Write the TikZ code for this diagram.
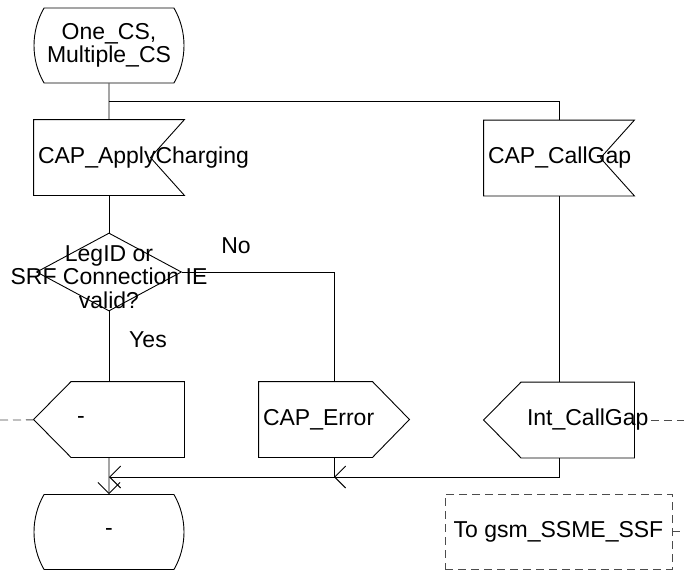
\documentclass[tikz,border=0pt]{standalone}
\usepackage{fontspec}
\setmainfont{Liberation Sans}
\usetikzlibrary{shapes.geometric,shapes.misc,arrows.meta}

% outlines of the SDL symbols, drawn round a plain box node
\newcommand{\sdlinput}[1]{\draw (#1.north west) -- (#1.north east) -- ([xshift=-34pt]#1.east) -- (#1.south east) -- (#1.south west) -- cycle;}
\newcommand{\sdloutleft}[1]{\draw ([xshift=37.5pt]#1.north west) -- (#1.north east) -- (#1.south east) -- ([xshift=37.5pt]#1.south west) -- (#1.west) -- cycle;}
\newcommand{\sdloutright}[1]{\draw (#1.north west) -- ([xshift=-37pt]#1.north east) -- (#1.east) -- ([xshift=-37pt]#1.south east) -- (#1.south west) -- cycle;}

\begin{document}
\begin{tikzpicture}[x=1pt, y=-1pt, line width=0.9pt, font=\fontsize{23}{23.5}\selectfont]
        \tikzstyle{sdl} = [rectangle, inner sep=0pt, minimum width=150pt, minimum height=75pt]
        \tikzstyle{terminal} = [sdl, draw, rounded rectangle, rounded rectangle arc length=60]
        \tikzstyle{decision} = [draw, diamond, inner sep=0pt, minimum width=145pt, minimum height=78pt]
        \tikzstyle{line} = [draw, -{Straight Barb[length=11pt, width=22pt]}]
        \tikzstyle{env} = [draw=black!70, dash pattern=on 8pt off 5pt, line width=0.8pt]
        \tikzstyle{txt} = [anchor=west, inner sep=2pt]

        \useasboundingbox (0,0) rectangle (684,571);

        \node [terminal, align=center] (start) at (109,45.5) {One\_CS,\\Multiple\_CS};
        \node [sdl, label={[txt, xshift=2pt]west:CAP\_ApplyCharging}] (apply) at (109,157.5) {};
        \node [sdl, label={[txt, xshift=2pt]west:CAP\_CallGap}] (callgap) at (559,158) {};
        \node [decision, label={[align=center, yshift=-5pt]center:LegID or\\SRF Connection IE\\valid?}] (q) at (109,272) {};
        \node [sdl, label={[txt, xshift=41pt]west:-}] (outdash) at (109,419.5) {};
        \node [sdl, label={[txt, xshift=2pt]west:CAP\_Error}] (err) at (334,419.5) {};
        \node [sdl, label={[txt, name=intgaptext, xshift=41pt]west:Int\_CallGap}] (intgap) at (559,420) {};
        \node [terminal] (stop) at (109,532) {-};
        \node [env, minimum width=227pt, minimum height=75pt] (ssf) at (558.5,531.5) {To gsm\_SSME\_SSF\hspace{8pt}};

        \node (no) at (236,246) {No};
        \node (yes) at (148,340) {Yes};

        \sdlinput{apply}
        \sdlinput{callgap}
        \sdloutleft{outdash}
        \sdloutright{err}
        \sdloutleft{intgap}

        \coordinate (fork) at (109,101);
        \coordinate (mrg) at (334,477);
        \coordinate (jl) at (109,477);
        \coordinate (leftend) at (0,420);
        \coordinate (rightend) at (684,420);
        \coordinate (tick) at (682,531.5);

        \path [draw] (start) -- (apply);
        \path [draw] (fork) -| (callgap);
        \path [draw] (apply) -- (q);
        \path [draw] (q) -| (err);
        \path [draw] (q) -- (outdash);
        \path [draw] (callgap) -- (intgap);
        \path [line] (outdash) -- (stop);
        \path [line] (intgap) |- (mrg);
        \path [line] (err) |- (jl);

        \draw [env] (leftend) -- (outdash);
        \draw [env] (intgaptext.east) -- (rightend);
        \draw [env] (ssf.east) -- (tick);
    \end{tikzpicture}
\end{document}
